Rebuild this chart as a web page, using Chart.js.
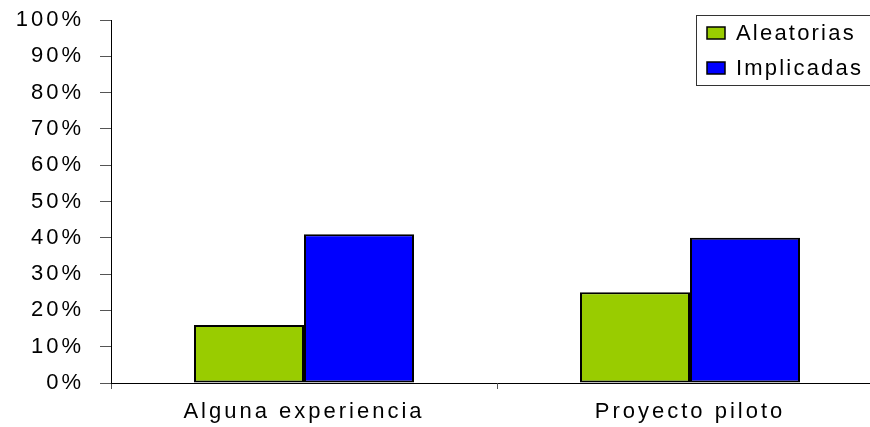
<!DOCTYPE html>
<html>
<head>
<meta charset="utf-8">
<script src="https://cdn.jsdelivr.net/npm/chart.js@4/dist/chart.umd.min.js"></script>
<style>
  html, body { margin: 0; padding: 0; background: #fff; overflow: hidden; }
  #wrap { width: 884px; height: 427px; }
</style>
</head>
<body>
<div id="wrap"><canvas id="c" width="884" height="427"></canvas></div>
<script>
// Chart data
const categories = ['Alguna experiencia', 'Proyecto piloto'];
const seriesNames = ['Aleatorias', 'Implicadas'];
const aleatorias = [16, 25];
const implicadas = [41, 40];
const yTickValues = [0, 10, 20, 30, 40, 50, 60, 70, 80, 90, 100];

const FONT = 'Liberation Sans, Arial, sans-serif';
const SPACING = '3px';

// Wide tracking on all canvas text
const spacingPlugin = {
  id: 'spacing',
  beforeUpdate(chart) { chart.ctx.letterSpacing = SPACING; },
  beforeDraw(chart) { chart.ctx.letterSpacing = SPACING; }
};

// Boxed legend in the upper right corner
const boxLegend = {
  id: 'boxLegend',
  afterDraw(chart) {
    const ctx = chart.ctx;
    ctx.save();
    ctx.letterSpacing = '2.2px';
    ctx.strokeStyle = '#333';
    ctx.lineWidth = 1;
    ctx.fillStyle = '#fff';
    ctx.fillRect(696.5, 15.5, 200, 70);
    ctx.strokeRect(696.5, 15.5, 200, 70);
    ctx.font = '22px ' + FONT;
    ctx.textBaseline = 'middle';
    ctx.textAlign = 'left';
    const rows = [33, 68];
    chart.data.datasets.forEach((ds, i) => {
      const y = rows[i];
      ctx.fillStyle = ds.backgroundColor;
      ctx.fillRect(707, y - 6, 18, 12);
      ctx.strokeStyle = '#000';
      ctx.lineWidth = 1.5;
      ctx.strokeRect(707, y - 6, 18, 12);
      ctx.fillStyle = '#000';
      ctx.fillText(ds.label, 736, y + 1);
    });
    ctx.restore();
  }
};

new Chart(document.getElementById('c'), {
  type: 'bar',
  data: {
    labels: categories,
    datasets: [
      { label: seriesNames[0], data: aleatorias, backgroundColor: '#99CC00',
        borderColor: '#000', borderWidth: 2, borderSkipped: false },
      { label: seriesNames[1], data: implicadas, backgroundColor: '#0000FF',
        borderColor: '#000', borderWidth: 2, borderSkipped: false }
    ]
  },
  options: {
    responsive: false,
    animation: false,
    devicePixelRatio: 1,
    layout: { padding: { top: 20, left: 0, right: 1, bottom: 0 } },
    datasets: { bar: { categoryPercentage: 0.57, barPercentage: 1 } },
    plugins: {
      legend: { display: false },
      tooltip: { enabled: false }
    },
    scales: {
      x: {
        grid: { drawOnChartArea: false, offset: true, tickLength: 6, tickColor: '#555' },
        border: { color: '#000', width: 1 },
        ticks: { color: '#000', font: { family: FONT, size: 22 }, padding: 10, maxRotation: 0 },
        afterFit(scale) { scale.height = 44; scale.paddingLeft = 0; scale.paddingRight = 0; }
      },
      y: {
        min: 0, max: 100,
        afterBuildTicks(scale) { scale.ticks = yTickValues.map(v => ({ value: v })); },
        grid: { drawOnChartArea: false, tickLength: 11, tickColor: '#555' },
        border: { color: '#000', width: 1 },
        ticks: { color: '#000', font: { family: FONT, size: 22 }, padding: 16,
                 callback: v => v + '%' },
        afterFit(scale) { scale.width = 111; scale.paddingTop = 0; scale.paddingBottom = 0; }
      }
    }
  },
  plugins: [spacingPlugin, boxLegend]
});
</script>
</body>
</html>
